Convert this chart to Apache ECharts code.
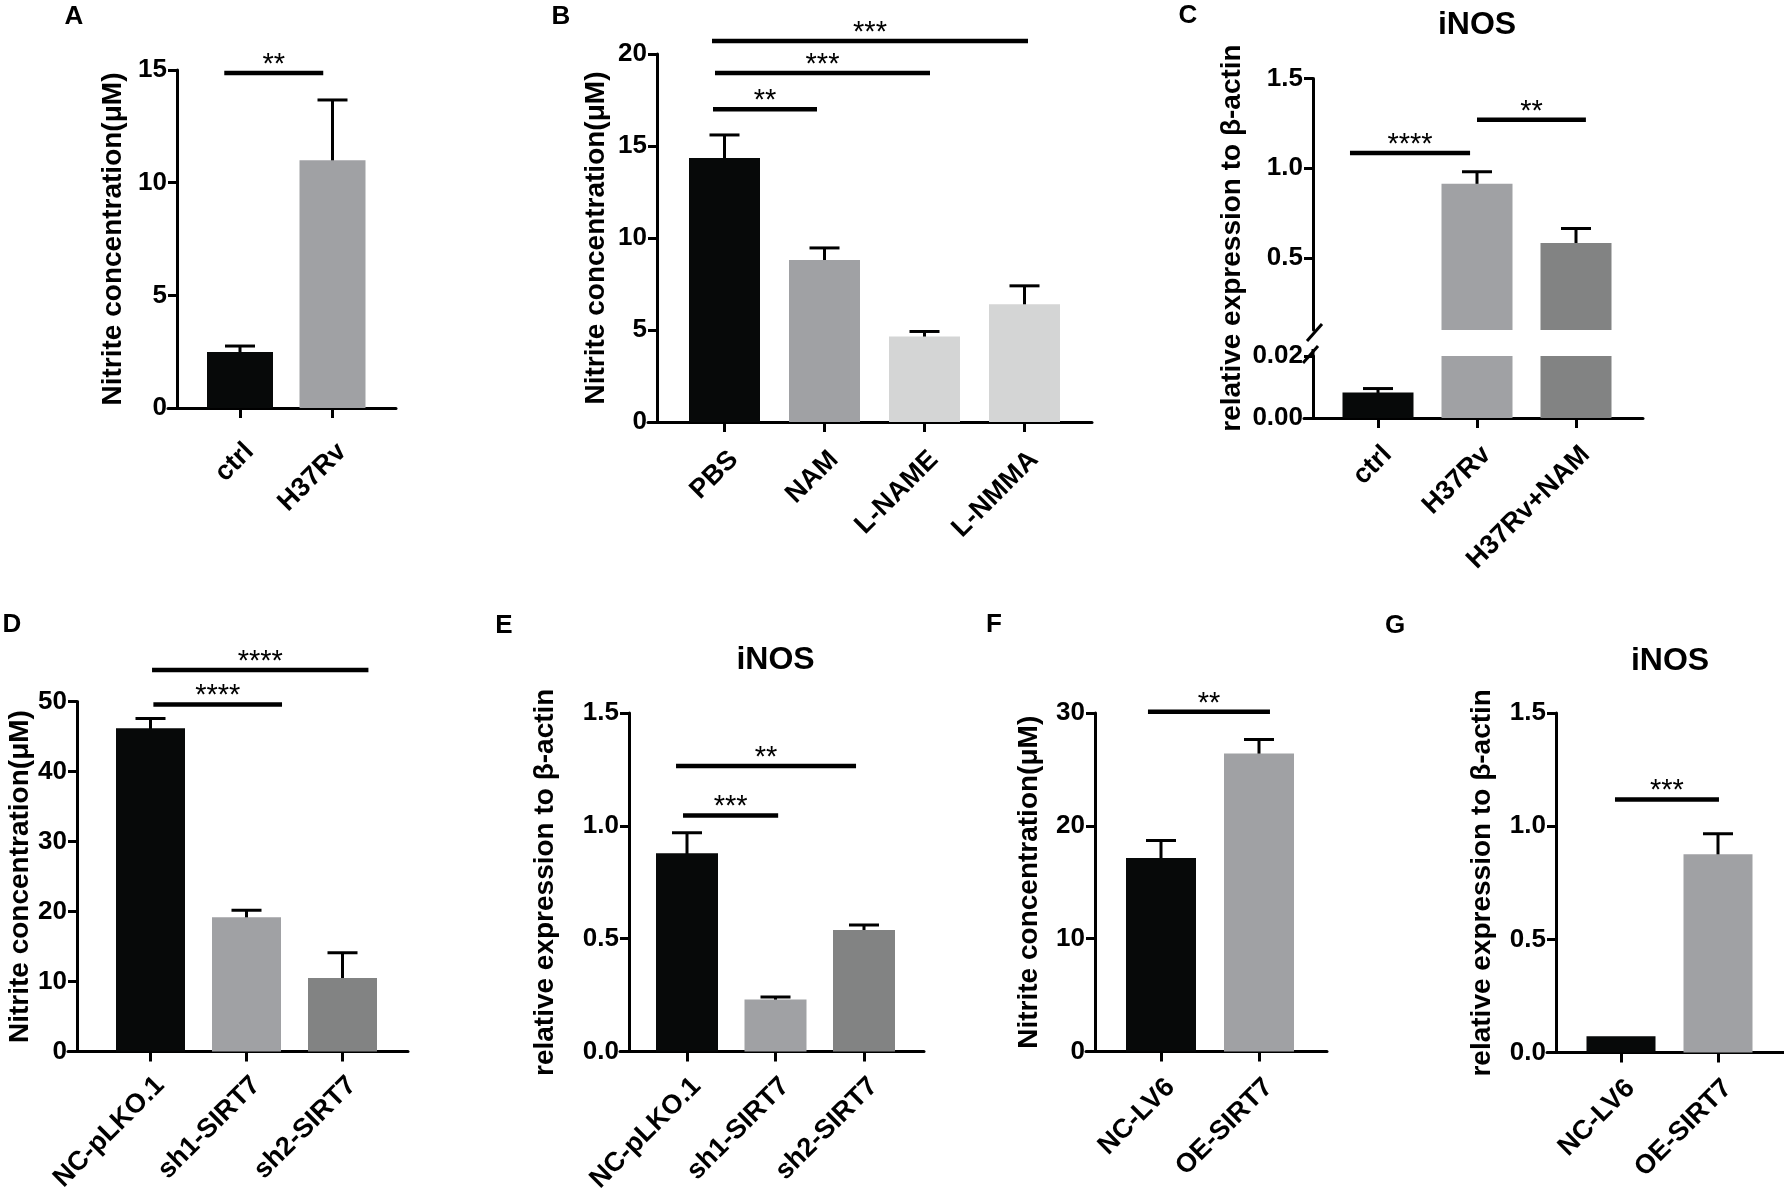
<!DOCTYPE html>
<html><head><meta charset="utf-8">
<script src="https://cdn.jsdelivr.net/npm/echarts@6/dist/echarts.min.js"></script>
<style>html,body{margin:0;padding:0;background:#fff}#c{width:1784px;height:1190px}</style>
</head><body><div id="c"></div>
<script>
// ================= DATA =================
// A
const catsA = ['ctrl', 'H37Rv'];
const valsA = [2.49, 11.0];
const semA  = [0.26, 2.67];
const sigA  = [[-0.17, 0.9, 14.87]];
const sigLabelsA = ['**'];
// B
const catsB = ['PBS', 'NAM', 'L-NAME', 'L-NMMA'];
const valsB = [14.35, 8.8, 4.64, 6.4];
const semB  = [1.25, 0.66, 0.28, 1.0];
const sigB  = [[-0.115, 0.925, 17.0], [-0.095, 2.055, 18.97], [-0.125, 3.035, 20.7]];
const sigLabelsB = ['**', '***', '***'];
// C (broken axis)
const catsC = ['ctrl', 'H37Rv', 'H37Rv+NAM'];
const valsC = [0.0082, 0.914, 0.584];
const semC  = [0.0013, 0.067, 0.081];
const sigC  = [[-0.283, 0.93, 1.085], [1.0, 2.1, 1.271]];
const sigLabelsC = ['****', '**'];
// D
const catsD = ['NC-pLKO.1', 'sh1-SIRT7', 'sh2-SIRT7'];
const valsD = [46.2, 19.2, 10.5];
const semD  = [1.4, 1.0, 3.6];
const sigD  = [[0.03, 1.37, 49.6], [0.016, 2.27, 54.5]];
const sigLabelsD = ['****', '****'];
// E
const catsE = ['NC-pLKO.1', 'sh1-SIRT7', 'sh2-SIRT7'];
const valsE = [0.879, 0.23, 0.538];
const semE  = [0.09, 0.011, 0.023];
const sigE  = [[-0.045, 1.03, 1.046], [-0.124, 1.91, 1.265]];
const sigLabelsE = ['***', '**'];
// F
const catsF = ['NC-LV6', 'OE-SIRT7'];
const valsF = [17.15, 26.4];
const semF  = [1.55, 1.25];
const sigF  = [[-0.133, 1.112, 30.1]];
const sigLabelsF = ['**'];
// G
const catsG = ['NC-LV6', 'OE-SIRT7'];
const valsG = [0.072, 0.876];
const semG  = [0, 0.091];
const sigG  = [[-0.062, 1.01, 1.118]];
const sigLabelsG = ['***'];

const titleNitrite = 'Nitrite concentration(μM)';
const titleRel = 'relative expression to β-actin';

// ================= STYLE / LAYOUT =================
const FONT = '"Liberation Sans", Arial, Helvetica, sans-serif';
const BLACK = '#070909', MID = '#a0a1a4', LIGHT = '#d4d5d5', DARK = '#828383';
const EXT = 9; // x-axis extends left of y-axis by tick length
const TICKFS = 26, CATFS = 27, NAMEFS = 28, STARFS = 29;

const panels = {
  A: {cats: catsA, vals: valsA, sem: semA, sig: sigA, sigL: sigLabelsA, colors: [BLACK, MID],
      axisX: 177, xEnd: 396, c0: 240, sp: 92.5, barW: 66, lblMargin: 30},
  B: {cats: catsB, vals: valsB, sem: semB, sig: sigB, sigL: sigLabelsB, colors: [BLACK, MID, LIGHT, LIGHT],
      axisX: 657, xEnd: 1092, c0: 724.5, sp: 100, barW: 71, lblMargin: 24},
  C: {cats: catsC, vals: valsC, sem: semC, sig: sigC, sigL: sigLabelsC, colors: [BLACK, MID, DARK],
      axisX: 1313, xEnd: 1643, c0: 1378, sp: 99, barW: 71, lblMargin: 23},
  D: {cats: catsD, vals: valsD, sem: semD, sig: sigD, sigL: sigLabelsD, colors: [BLACK, MID, DARK],
      axisX: 77, xEnd: 408, c0: 150.5, sp: 96, barW: 69, lblMargin: 20},
  E: {cats: catsE, vals: valsE, sem: semE, sig: sigE, sigL: sigLabelsE, colors: [BLACK, MID, DARK],
      axisX: 629, xEnd: 924, c0: 687, sp: 88.5, barW: 62, lblMargin: 21},
  F: {cats: catsF, vals: valsF, sem: semF, sig: sigF, sigL: sigLabelsF, colors: [BLACK, MID],
      axisX: 1095, xEnd: 1327, c0: 1161, sp: 98, barW: 70, lblMargin: 22},
  G: {cats: catsG, vals: valsG, sem: semG, sig: sigG, sigL: sigLabelsG, colors: [BLACK, MID],
      axisX: 1556, xEnd: 1784, c0: 1621, sp: 97, barW: 69, lblMargin: 22}
};

const grids = [], xAxes = [], yAxes = [], series = [];
const axisLineStyle = {color: '#000', width: 3};

function addGrid(p, top, bot, ycfg, showX, name, nameGap) {
  const gi = grids.length;
  const left = p.axisX - EXT;
  grids.push({left: left, top: top, width: p.xEnd - left, height: bot - top,
              containLabel: false, outerBoundsMode: 'none'});
  const idx = p.cats.map((_, i) => i);
  const xMin = (left - p.c0) / p.sp, xMax = (p.xEnd - p.c0) / p.sp;
  xAxes.push({
    gridIndex: gi, type: 'value', min: xMin, max: xMax, show: showX,
    axisLine: {show: true, onZero: true, lineStyle: axisLineStyle},
    axisTick: {show: true, customValues: idx, length: 10, lineStyle: axisLineStyle},
    axisLabel: {show: true, customValues: idx, formatter: v => p.cats[Math.round(v)] || '',
      rotate: 45, align: 'right', verticalAlign: 'top', margin: p.lblMargin,
      fontSize: CATFS, fontWeight: 'bold', color: '#000', fontFamily: FONT},
    splitLine: {show: false}
  });
  const y = {
    gridIndex: gi, type: 'value', min: ycfg.min, max: ycfg.max, position: 'left', offset: -EXT,
    axisLine: {show: true, onZero: false, lineStyle: axisLineStyle},
    axisTick: {show: true, length: 9, lineStyle: axisLineStyle},
    axisLabel: {show: true, margin: 10, fontSize: TICKFS, fontWeight: 'bold', color: '#000', fontFamily: FONT,
      formatter: v => Number(v).toFixed(ycfg.dec)},
    splitLine: {show: false}
  };
  if (ycfg.interval != null) y.interval = ycfg.interval;
  if (ycfg.custom) { y.axisTick.customValues = ycfg.custom; y.axisLabel.customValues = ycfg.custom; }
  if (name) {
    y.name = name; y.nameLocation = 'middle'; y.nameGap = nameGap; y.nameRotate = 90;
    y.nameTextStyle = {fontSize: NAMEFS, fontWeight: 'bold', color: '#000', fontFamily: FONT};
  }
  yAxes.push(y);
  return {gi, xMin};
}

function addBars(p, gi) {
  series.push({
    type: 'bar', xAxisIndex: gi, yAxisIndex: gi, barWidth: p.barW, clip: true, silent: true,
    data: p.vals.map((v, i) => ({value: [i, v], itemStyle: {color: p.colors[i]}}))
  });
  series.push({
    type: 'custom', xAxisIndex: gi, yAxisIndex: gi, clip: true, silent: true,
    data: p.vals.map((v, i) => [i, v, v + p.sem[i]]),
    encode: {x: 0, y: [1, 2]},
    renderItem: (params, api) => {
      const x = api.value(0), lo = api.value(1), hi = api.value(2);
      if (!(hi > lo)) return null;
      const a = api.coord([x, lo]), b = api.coord([x, hi]);
      return {type: 'group', children: [
        {type: 'line', shape: {x1: a[0], y1: a[1] + 3, x2: b[0], y2: b[1]}, style: {stroke: '#000', lineWidth: 3}},
        {type: 'line', shape: {x1: b[0] - 15, y1: b[1], x2: b[0] + 15, y2: b[1]}, style: {stroke: '#000', lineWidth: 3}}
      ]};
    }
  });
}

function addSig(p, gi) {
  series.push({
    type: 'custom', xAxisIndex: gi, yAxisIndex: gi, clip: false, silent: true, z: 5,
    data: p.sig.map(s => s.slice()),
    encode: {x: [0, 1], y: 2},
    renderItem: (params, api) => {
      const a = api.coord([api.value(0), api.value(2)]);
      const b = api.coord([api.value(1), api.value(2)]);
      return {type: 'group', children: [
        {type: 'line', shape: {x1: a[0], y1: a[1], x2: b[0], y2: b[1]}, style: {stroke: '#000', lineWidth: 4.5}},
        {type: 'text', style: {text: p.sigL[params.dataIndex], x: (a[0] + b[0]) / 2, y: a[1] - 8,
          align: 'center', verticalAlign: 'middle', font: STARFS + 'px ' + FONT, fill: '#000'}}
      ]};
    }
  });
}

// ---- panels ----
let g;
g = addGrid(panels.A, 70, 408, {min: 0, max: 15, interval: 5, dec: 0}, true, titleNitrite, 50);
addBars(panels.A, g.gi); addSig(panels.A, g.gi);

g = addGrid(panels.B, 54, 422, {min: 0, max: 20, interval: 5, dec: 0}, true, titleNitrite, 47);
addBars(panels.B, g.gi); addSig(panels.B, g.gi);

// C upper (0.1 .. 1.5) and lower (0 .. 0.02)
const gCu = addGrid(panels.C, 78.5, 330, {min: 0.1, max: 1.5, custom: [0.5, 1.0, 1.5], dec: 1}, false, null, 0);
addBars(panels.C, gCu.gi); addSig(panels.C, gCu.gi);
const gCl = addGrid(panels.C, 356, 418, {min: 0, max: 0.02, interval: 0.02, dec: 2}, true, null, 0);
addBars(panels.C, gCl.gi);
// axis break marks
series.push({
  type: 'custom', xAxisIndex: gCu.gi, yAxisIndex: gCu.gi, clip: false, silent: true,
  data: [[gCu.xMin, 0.1]], encode: {x: 0, y: 1},
  renderItem: (params, api) => {
    const p = api.coord([api.value(0), api.value(1)]); const ax = p[0] + EXT;
    return {type: 'line', shape: {x1: ax - 6, y1: p[1] + 11, x2: ax + 9, y2: p[1] - 6}, style: {stroke: '#000', lineWidth: 3}};
  }
});
series.push({
  type: 'custom', xAxisIndex: gCl.gi, yAxisIndex: gCl.gi, clip: false, silent: true,
  data: [[gCl.xMin, 0.02]], encode: {x: 0, y: 1},
  renderItem: (params, api) => {
    const p = api.coord([api.value(0), api.value(1)]); const ax = p[0] + EXT;
    return {type: 'group', children: [
      {type: 'line', shape: {x1: ax, y1: p[1] + 1, x2: ax, y2: p[1] - 7}, style: {stroke: '#000', lineWidth: 3}},
      {type: 'line', shape: {x1: ax - 10, y1: p[1] + 7, x2: ax + 5, y2: p[1] - 10}, style: {stroke: '#000', lineWidth: 3}}
    ]};
  }
});

g = addGrid(panels.D, 701.6, 1051.5, {min: 0, max: 50, interval: 10, dec: 0}, true, titleNitrite, 40);
addBars(panels.D, g.gi); addSig(panels.D, g.gi);

g = addGrid(panels.E, 713, 1051.5, {min: 0, max: 1.5, interval: 0.5, dec: 1}, true, titleRel, 70);
addBars(panels.E, g.gi); addSig(panels.E, g.gi);

g = addGrid(panels.F, 713, 1051.5, {min: 0, max: 30, interval: 10, dec: 0}, true, titleNitrite, 52);
addBars(panels.F, g.gi); addSig(panels.F, g.gi);

g = addGrid(panels.G, 713, 1052.6, {min: 0, max: 1.5, interval: 0.5, dec: 1}, true, titleRel, 60);
addBars(panels.G, g.gi); addSig(panels.G, g.gi);

// ---- texts ----
function txt(t, x, y, size, extra) {
  return Object.assign({type: 'text', x: x, y: y, silent: true,
    style: {text: t, font: 'bold ' + size + 'px ' + FONT, fill: '#000', align: 'center', verticalAlign: 'middle'}}, extra || {});
}
const graphics = [
  txt('A', 74, 17, 26), txt('B', 561, 17, 26), txt('C', 1188, 16, 26),
  txt('D', 12, 625, 26), txt('E', 504, 626, 26), txt('F', 994, 625, 26), txt('G', 1395, 626, 26),
  txt('iNOS', 1477, 25, 32), txt('iNOS', 775.5, 660, 32), txt('iNOS', 1670, 661, 32),
  txt(titleRel, 1232, 238, NAMEFS, {rotation: Math.PI / 2})
];

const chart = echarts.init(document.getElementById('c'), null, {renderer: 'canvas'});
chart.setOption({
  animation: false,
  backgroundColor: '#fff',
  grid: grids, xAxis: xAxes, yAxis: yAxes, series: series, graphic: graphics
});
</script>
</body></html>
